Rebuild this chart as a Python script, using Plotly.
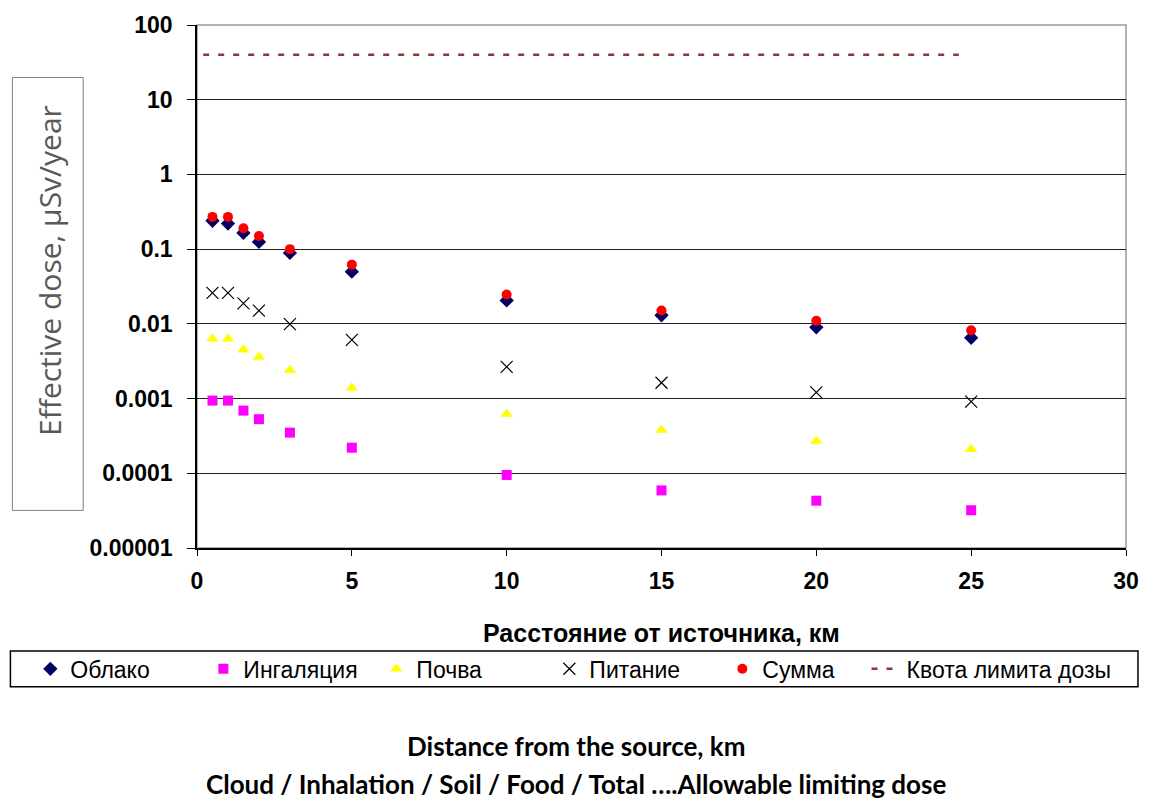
import plotly.graph_objects as go

# ---- data ----
distance_km = [0.5, 1, 1.5, 2, 3, 5, 10, 15, 20, 25]
cloud =      [0.24, 0.22, 0.165, 0.125, 0.089, 0.050, 0.0206, 0.0130, 0.0090, 0.0065]
inhalation = [0.00094, 0.00094, 0.00069, 0.00053, 0.00035, 0.00022, 0.000095, 0.000059, 0.000043, 0.000032]
soil =       [0.0063, 0.0063, 0.0045, 0.0036, 0.0024, 0.0014, 0.00062, 0.00038, 0.00027, 0.00021]
food =       [0.026, 0.026, 0.0188, 0.015, 0.0099, 0.0061, 0.00266, 0.00163, 0.00121, 0.00091]
total =      [0.27, 0.27, 0.19, 0.15, 0.10, 0.062, 0.0247, 0.0151, 0.0110, 0.0082]
quota_x = [0.2, 24.6]
quota_y = [40, 40]

series_names = ["Облако", "Ингаляция", "Почва", "Питание", "Сумма", "Квота лимита дозы"]
y_tickvals = [0.00001, 0.0001, 0.001, 0.01, 0.1, 1, 10, 100]
y_ticktext = ["0.00001", "0.0001", "0.001", "0.01", "0.1", "1", "10", "100"]
x_title = "Расстояние от источника, км"
y_title = "Effective dose, µSv/year"
caption1 = "Distance from the source, km"
caption2 = "Cloud / Inhalation / Soil / Food / Total ….Allowable limiting dose"

ARIAL = "Liberation Sans, Arial, sans-serif"
CAL = "Lato, Open Sans, sans-serif"

fig = go.Figure()
fig.add_trace(go.Scatter(x=distance_km, y=cloud, mode="markers", name=series_names[0],
                         marker=dict(symbol="diamond", size=11, color="#000066")))
fig.add_trace(go.Scatter(x=distance_km, y=inhalation, mode="markers", name=series_names[1],
                         marker=dict(symbol="square", size=10, color="#FF00FF")))
fig.add_trace(go.Scatter(x=distance_km, y=soil, mode="markers", name=series_names[2],
                         marker=dict(symbol="triangle-up", size=11, color="#FFFF00")))
fig.add_trace(go.Scatter(x=distance_km, y=food, mode="markers", name=series_names[3],
                         marker=dict(symbol="x-thin-open", size=12, color="#000000",
                                     line=dict(width=1.2, color="#000000"))))
fig.add_trace(go.Scatter(x=distance_km, y=total, mode="markers", name=series_names[4],
                         marker=dict(symbol="circle", size=10, color="#FF0000")))
fig.add_trace(go.Scatter(x=quota_x, y=quota_y, mode="lines", name=series_names[5],
                         legend="legend2",
                         line=dict(color="#993333", width=2.5, dash="6px,9px")))

legend_common = dict(orientation="h", yanchor="middle", xanchor="left",
                     font=dict(family=ARIAL, size=23, color="black"),
                     bgcolor="rgba(0,0,0,0)", borderwidth=0, itemwidth=30)

fig.update_layout(
    width=1151, height=802,
    margin=dict(l=197, r=23, t=20, b=254),
    paper_bgcolor="white", plot_bgcolor="white",
    font=dict(family=ARIAL, color="black"),
    showlegend=True,
    legend=dict(x=(30 - 197) / 931, y=(548 - 670) / 528, entrywidth=128,
                traceorder="normal", **legend_common),
    legend2=dict(x=(868 - 197) / 931, y=(548 - 670) / 528, **legend_common),
    xaxis=dict(range=[0, 30], dtick=5, tick0=0, showgrid=False, zeroline=False,
               showline=True, linecolor="black", linewidth=1.5,
               ticks="outside", ticklen=6, tickcolor="black", tickwidth=1,
               tickfont=dict(family=ARIAL, size=23, color="black", weight="bold"),
               ticklabelstandoff=6),
    yaxis=dict(type="log", range=[-5, 2], tickvals=y_tickvals, ticktext=y_ticktext,
               showgrid=True, gridcolor="#222222", gridwidth=1.2, zeroline=False,
               showline=True, linecolor="black", linewidth=1.5,
               ticks="outside", ticklen=8, tickcolor="black", tickwidth=1,
               tickfont=dict(family=ARIAL, size=23, color="black", weight="bold"),
               ticklabelstandoff=10),
)

# plot-area border (top/right gray)
fig.add_shape(type="rect", xref="paper", yref="paper", x0=0, x1=1, y0=0, y1=1,
              line=dict(color="#999999", width=1.5), layer="below")
# legend box
fig.add_shape(type="rect", xref="paper", yref="paper", x0=(10 - 197) / 931, x1=(1140 - 197) / 931,
              y0=(548 - 688) / 528, y1=(548 - 652) / 528, line=dict(color="black", width=1.5))
# y-title box
fig.add_shape(type="rect", xref="paper", yref="paper",
              x0=(12 - 197) / 931, x1=(83 - 197) / 931,
              y0=(548 - 510) / 528, y1=(548 - 73) / 528,
              line=dict(color="#7f7f7f", width=1))

fig.add_annotation(text=y_title, xref="paper", yref="paper",
                   x=(49 - 197) / 931, y=(548 - 268) / 528, textangle=-90,
                   showarrow=False, font=dict(family="Open Sans, sans-serif", size=30, color="#595959"),
                   xanchor="center", yanchor="middle")
fig.add_annotation(text=x_title, xref="paper", yref="paper", x=0.5, y=(548 - 634) / 528,
                   showarrow=False, xanchor="center", yanchor="middle",
                   font=dict(family=ARIAL, size=25, color="black", weight="bold"))
fig.add_annotation(text=caption1, xref="paper", yref="paper", x=(577 - 197) / 931,
                   y=(548 - 748) / 528, showarrow=False, xanchor="center", yanchor="middle",
                   font=dict(family=CAL, size=26, color="black", weight="bold"))
fig.add_annotation(text=caption2, xref="paper", yref="paper", x=(577 - 197) / 931,
                   y=(548 - 786) / 528, showarrow=False, xanchor="center", yanchor="middle",
                   font=dict(family=CAL, size=26, color="black", weight="bold"))

fig.write_html("out.html", config={"displayModeBar": False},
               post_script="document.body.style.margin='0';document.body.style.padding='0';")
